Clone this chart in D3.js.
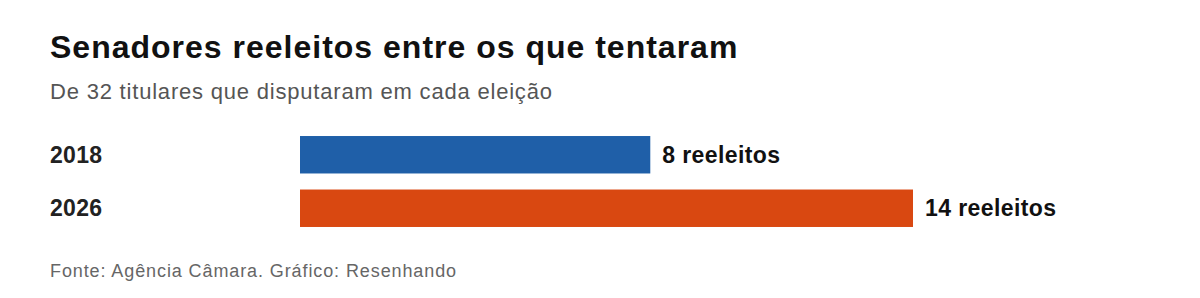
<!DOCTYPE html>
<html>
<head>
<meta charset="utf-8">
<script src="https://cdn.jsdelivr.net/npm/d3@7"></script>
<style>
  body { margin: 0; background: #fff; }
  svg text { font-family: "Liberation Sans", Arial, sans-serif; }
</style>
</head>
<body>
<div id="chart"></div>
<script>
// dados
var years = ["2018", "2026"];
var reelected = [8, 14];
var barColors = ["#1f5fa8", "#d94811"];

var width = 1200, height = 298;

var svg = d3.select("#chart").append("svg")
  .attr("width", width)
  .attr("height", height);

// titulo e subtitulo
svg.append("text")
  .attr("x", 50).attr("y", 58)
  .attr("font-size", 32).attr("font-weight", "bold")
  .attr("letter-spacing", 1)
  .attr("fill", "#111")
  .text("Senadores reeleitos entre os que tentaram");

svg.append("text")
  .attr("x", 50).attr("y", 99)
  .attr("font-size", 22)
  .attr("letter-spacing", 0.8)
  .attr("fill", "#555")
  .text("De 32 titulares que disputaram em cada eleição");

var x = d3.scaleLinear().domain([0, 14]).range([300, 913]);
var y = d3.scaleBand().domain(years).range([128, 235]).paddingInner(0.3).paddingOuter(0.15);

var rows = svg.selectAll("g.row")
  .data(years)
  .enter().append("g").attr("class", "row");

rows.append("rect")
  .attr("x", x(0))
  .attr("y", function(d) { return y(d); })
  .attr("width", function(d, i) { return x(reelected[i]) - x(0); })
  .attr("height", y.bandwidth())
  .attr("fill", function(d, i) { return barColors[i]; });

rows.append("text")
  .attr("x", 50)
  .attr("y", function(d) { return y(d) + y.bandwidth() / 2; })
  .attr("dy", "0.35em")
  .attr("font-size", 23).attr("font-weight", "bold")
  .attr("letter-spacing", 0.3)
  .attr("fill", "#222")
  .text(function(d) { return d; });

rows.append("text")
  .attr("x", function(d, i) { return x(reelected[i]) + 12; })
  .attr("y", function(d) { return y(d) + y.bandwidth() / 2; })
  .attr("dy", "0.35em")
  .attr("font-size", 23).attr("font-weight", "bold")
  .attr("letter-spacing", 0.4)
  .attr("fill", "#111")
  .text(function(d, i) { return reelected[i] + " reeleitos"; });

// fonte
svg.append("text")
  .attr("x", 50).attr("y", 277)
  .attr("font-size", 18)
  .attr("letter-spacing", 0.9)
  .attr("fill", "#666")
  .text("Fonte: Agência Câmara. Gráfico: Resenhando");
</script>
</body>
</html>
